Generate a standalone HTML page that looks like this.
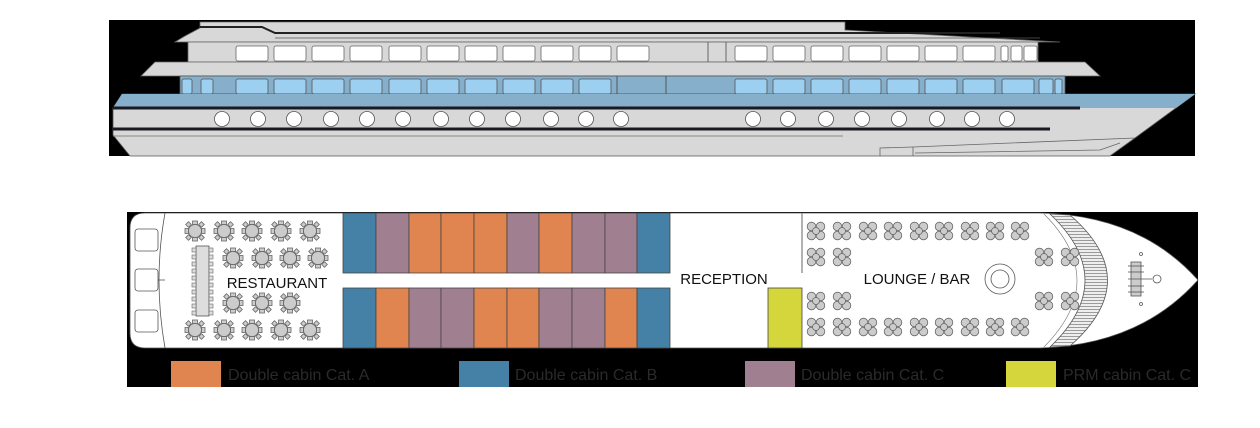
<!DOCTYPE html>
<html><head><meta charset="utf-8"><style>
html,body{margin:0;padding:0;background:#fff;}
svg{display:block;font-family:"Liberation Sans",sans-serif;}
</style></head><body>
<svg width="1260" height="428" viewBox="0 0 1260 428" xmlns="http://www.w3.org/2000/svg">
<defs>
<pattern id="hatch" width="4" height="3" patternUnits="userSpaceOnUse"><rect width="4" height="3" fill="#eee"/><line x1="0" y1="0.5" x2="4" y2="0.5" stroke="#777" stroke-width="0.7"/></pattern>
<g id="lt" stroke="#666" stroke-width="0.8" fill="#ccc">
<circle cx="-4.5" cy="-4.5" r="4.3"/><circle cx="4.5" cy="-4.5" r="4.3"/><circle cx="-4.5" cy="4.5" r="4.3"/><circle cx="4.5" cy="4.5" r="4.3"/><circle r="3.5"/>
</g>
<g id="rt" stroke="#666" stroke-width="0.8" fill="#ccc">
<rect x="-2.5" y="-10" width="5" height="3.5"/><rect x="-2.5" y="6.5" width="5" height="3.5"/>
<rect x="-10" y="-2.5" width="3.5" height="5"/><rect x="6.5" y="-2.5" width="3.5" height="5"/>
<rect x="-8.5" y="-8.5" width="4" height="4" transform="rotate(45 -6.5 -6.5)"/><rect x="4.5" y="-8.5" width="4" height="4" transform="rotate(45 6.5 -6.5)"/>
<rect x="-8.5" y="4.5" width="4" height="4" transform="rotate(45 -6.5 6.5)"/><rect x="4.5" y="4.5" width="4" height="4" transform="rotate(45 6.5 6.5)"/>
<circle r="6.5"/>
</g>
</defs>

<rect x="109" y="20" width="1086" height="136" fill="#000"/>
<polygon points="200,22 845,22 845,30 1060,42 175,42 185,36 200,28" fill="#d8d8d8" stroke="#666" stroke-width="0.8"/>
<polyline points="200,27 262,27 275,33 1000,33" fill="none" stroke="#222" stroke-width="2"/>
<line x1="275" y1="38" x2="1040" y2="38" stroke="#555" stroke-width="0.8"/>
<rect x="188" y="42" width="850" height="20" fill="#d8d8d8" stroke="#666" stroke-width="0.8"/>
<g fill="#fff" stroke="#666" stroke-width="0.8">
<rect x="236" y="46" width="32" height="15" rx="2"/><rect x="274" y="46" width="32" height="15" rx="2"/><rect x="312" y="46" width="32" height="15" rx="2"/><rect x="350" y="46" width="32" height="15" rx="2"/><rect x="389" y="46" width="32" height="15" rx="2"/><rect x="427" y="46" width="32" height="15" rx="2"/><rect x="465" y="46" width="32" height="15" rx="2"/><rect x="503" y="46" width="32" height="15" rx="2"/><rect x="541" y="46" width="32" height="15" rx="2"/><rect x="579" y="46" width="32" height="15" rx="2"/><rect x="617" y="46" width="32" height="15" rx="2"/>
<rect x="735" y="46" width="32" height="15" rx="2"/><rect x="773" y="46" width="32" height="15" rx="2"/><rect x="811" y="46" width="32" height="15" rx="2"/><rect x="849" y="46" width="32" height="15" rx="2"/><rect x="887" y="46" width="32" height="15" rx="2"/><rect x="925" y="46" width="32" height="15" rx="2"/><rect x="963" y="46" width="32" height="15" rx="2"/>
<rect x="1001" y="46" width="7" height="15" rx="2"/><rect x="1011" y="46" width="11" height="15" rx="2"/><rect x="1024" y="46" width="13" height="15" rx="2"/>
</g>
<line x1="708" y1="42" x2="708" y2="62" stroke="#666"/><line x1="726" y1="42" x2="726" y2="62" stroke="#666"/>
<polygon points="141,76 155,62 1085,62 1100,76" fill="#d8d8d8" stroke="#666" stroke-width="0.8"/>
<rect x="180" y="76" width="885" height="18" fill="#86afcb" stroke="#555" stroke-width="0.8"/>
<g fill="#9dd0f0" stroke="#555" stroke-width="0.8">
<rect x="182" y="79" width="10" height="15" rx="2"/><rect x="201" y="79" width="12" height="15" rx="2"/>
<rect x="236" y="79" width="32" height="15" rx="2"/><rect x="274" y="79" width="32" height="15" rx="2"/><rect x="312" y="79" width="32" height="15" rx="2"/><rect x="350" y="79" width="32" height="15" rx="2"/><rect x="389" y="79" width="32" height="15" rx="2"/><rect x="427" y="79" width="32" height="15" rx="2"/><rect x="465" y="79" width="32" height="15" rx="2"/><rect x="503" y="79" width="32" height="15" rx="2"/><rect x="541" y="79" width="32" height="15" rx="2"/><rect x="579" y="79" width="32" height="15" rx="2"/>
<rect x="735" y="79" width="32" height="15" rx="2"/><rect x="773" y="79" width="32" height="15" rx="2"/><rect x="811" y="79" width="32" height="15" rx="2"/><rect x="849" y="79" width="32" height="15" rx="2"/><rect x="887" y="79" width="32" height="15" rx="2"/><rect x="925" y="79" width="32" height="15" rx="2"/><rect x="963" y="79" width="32" height="15" rx="2"/><rect x="1002" y="79" width="32" height="15" rx="2"/><rect x="1039" y="79" width="14" height="15" rx="2"/><rect x="1055" y="79" width="7" height="15" rx="2"/>
</g>
<line x1="617" y1="76" x2="617" y2="94" stroke="#555"/><line x1="666" y1="76" x2="666" y2="94" stroke="#555"/>
<polygon points="113,108 122,94 1195,94 1135,138 1110,156 130,156 113,135" fill="#d8d8d8" stroke="#555" stroke-width="0.8"/>
<polygon points="113,108 122,94 1195,94 1176,108" fill="#86afcb"/>
<line x1="113" y1="108" x2="1080" y2="108" stroke="#1a1a22" stroke-width="3"/>
<line x1="113" y1="129" x2="1050" y2="129" stroke="#1a1a22" stroke-width="3"/>
<line x1="113" y1="136" x2="843" y2="136" stroke="#888" stroke-width="1"/>
<polyline points="880,156 880,148 913,147 1135,138" fill="none" stroke="#666" stroke-width="0.8"/>
<polyline points="913,156 913,147" fill="none" stroke="#666" stroke-width="0.8"/>
<polyline points="915,153 1100,150 1120,143" fill="none" stroke="#666" stroke-width="0.8"/>
<g fill="#fff" stroke="#555" stroke-width="0.8">
<circle cx="222" cy="119" r="7.5"/><circle cx="258" cy="119" r="7.5"/><circle cx="294" cy="119" r="7.5"/><circle cx="331" cy="119" r="7.5"/><circle cx="367" cy="119" r="7.5"/><circle cx="403" cy="119" r="7.5"/><circle cx="441" cy="119" r="7.5"/><circle cx="477" cy="119" r="7.5"/><circle cx="513" cy="119" r="7.5"/><circle cx="551" cy="119" r="7.5"/><circle cx="586" cy="119" r="7.5"/><circle cx="621" cy="119" r="7.5"/>
<circle cx="753" cy="119" r="7.5"/><circle cx="788" cy="119" r="7.5"/><circle cx="826" cy="119" r="7.5"/><circle cx="862" cy="119" r="7.5"/><circle cx="899" cy="119" r="7.5"/><circle cx="937" cy="119" r="7.5"/><circle cx="972" cy="119" r="7.5"/><circle cx="1007" cy="119" r="7.5"/>
</g>

<rect x="127" y="212" width="1071" height="175" fill="#000"/>
<path d="M145,213 L1040,213 Q1140,215 1198,280 Q1140,345 1040,348 L145,348 Q130,348 130,333 L130,228 Q130,213 145,213 Z" fill="#fff" stroke="#555" stroke-width="0.8"/>
<path d="M165,213 Q153,280 165,348" fill="none" stroke="#555" stroke-width="0.8"/>
<g fill="#fff" stroke="#555" stroke-width="0.8">
<rect x="135" y="229" width="23" height="22" rx="3"/><rect x="135" y="269" width="23" height="22" rx="3"/><rect x="135" y="310" width="23" height="22" rx="3"/>
</g>
<line x1="158" y1="280" x2="165" y2="280" stroke="#555" stroke-width="0.8"/>
<path d="M1050,214 Q1120,280 1050,347 L1070,346 Q1145,280 1070,215 Z" fill="url(#hatch)" stroke="#555" stroke-width="0.8"/>
<path d="M1044,214 Q1110,280 1044,347" fill="none" stroke="#777" stroke-width="0.6"/>
<g stroke="#555" stroke-width="0.8" fill="#ccc">
<rect x="1131" y="262" width="10" height="34"/>
<line x1="1128" y1="266" x2="1144" y2="266"/><line x1="1128" y1="272" x2="1144" y2="272"/><line x1="1128" y1="286" x2="1144" y2="286"/><line x1="1128" y1="292" x2="1144" y2="292"/>
<line x1="1128" y1="279" x2="1152" y2="279"/>
<circle cx="1157" cy="279" r="4" fill="#fff"/>
<circle cx="1141" cy="254" r="1.5" fill="#fff"/><circle cx="1141" cy="304" r="1.5" fill="#fff"/>
</g>
<g stroke="#444" stroke-width="0.8">
<rect x="343" y="213" width="33" height="60" fill="#4580a6"/><rect x="376" y="213" width="33" height="60" fill="#a08090"/><rect x="409" y="213" width="32" height="60" fill="#e0854f"/><rect x="441" y="213" width="33" height="60" fill="#e0854f"/><rect x="474" y="213" width="33" height="60" fill="#e0854f"/><rect x="507" y="213" width="32" height="60" fill="#a08090"/><rect x="539" y="213" width="33" height="60" fill="#e0854f"/><rect x="572" y="213" width="33" height="60" fill="#a08090"/><rect x="605" y="213" width="32" height="60" fill="#a08090"/><rect x="637" y="213" width="33" height="60" fill="#4580a6"/>
<rect x="343" y="288" width="33" height="60" fill="#4580a6"/><rect x="376" y="288" width="33" height="60" fill="#e0854f"/><rect x="409" y="288" width="32" height="60" fill="#a08090"/><rect x="441" y="288" width="33" height="60" fill="#a08090"/><rect x="474" y="288" width="33" height="60" fill="#e0854f"/><rect x="507" y="288" width="32" height="60" fill="#e0854f"/><rect x="539" y="288" width="33" height="60" fill="#a08090"/><rect x="572" y="288" width="33" height="60" fill="#a08090"/><rect x="605" y="288" width="32" height="60" fill="#e0854f"/><rect x="637" y="288" width="33" height="60" fill="#4580a6"/>
<rect x="768" y="288" width="34" height="60" fill="#d4d63c"/>
</g>
<line x1="802" y1="213" x2="802" y2="273" stroke="#999" stroke-width="1.5"/>
<rect x="196" y="246" width="13" height="70" fill="#ddd" stroke="#555" stroke-width="0.8"/>
<g fill="#ddd" stroke="#666" stroke-width="0.6">
<rect x="192" y="248" width="4" height="4"/><rect x="192" y="255" width="4" height="4"/><rect x="192" y="262" width="4" height="4"/><rect x="192" y="269" width="4" height="4"/><rect x="192" y="276" width="4" height="4"/><rect x="192" y="283" width="4" height="4"/><rect x="192" y="290" width="4" height="4"/><rect x="192" y="297" width="4" height="4"/><rect x="192" y="304" width="4" height="4"/><rect x="192" y="311" width="4" height="4"/>
<rect x="209" y="248" width="4" height="4"/><rect x="209" y="255" width="4" height="4"/><rect x="209" y="262" width="4" height="4"/><rect x="209" y="269" width="4" height="4"/><rect x="209" y="276" width="4" height="4"/><rect x="209" y="283" width="4" height="4"/><rect x="209" y="290" width="4" height="4"/><rect x="209" y="297" width="4" height="4"/><rect x="209" y="304" width="4" height="4"/><rect x="209" y="311" width="4" height="4"/>
</g>
<use href="#rt" x="195" y="231"/><use href="#rt" x="224" y="231"/><use href="#rt" x="252" y="231"/><use href="#rt" x="281" y="231"/><use href="#rt" x="310" y="231"/>
<use href="#rt" x="233" y="258"/><use href="#rt" x="262" y="258"/><use href="#rt" x="290" y="258"/><use href="#rt" x="318" y="258"/>
<use href="#rt" x="233" y="303"/><use href="#rt" x="262" y="303"/><use href="#rt" x="290" y="303"/>
<use href="#rt" x="195" y="330"/><use href="#rt" x="224" y="330"/><use href="#rt" x="252" y="330"/><use href="#rt" x="281" y="330"/><use href="#rt" x="310" y="330"/>
<use href="#lt" x="816" y="231"/><use href="#lt" x="842" y="231"/><use href="#lt" x="868" y="231"/><use href="#lt" x="893" y="231"/><use href="#lt" x="919" y="231"/><use href="#lt" x="944" y="231"/><use href="#lt" x="970" y="231"/><use href="#lt" x="995" y="231"/><use href="#lt" x="1020" y="231"/>
<use href="#lt" x="816" y="257"/><use href="#lt" x="842" y="257"/><use href="#lt" x="1044" y="257"/><use href="#lt" x="1070" y="257"/>
<use href="#lt" x="816" y="301"/><use href="#lt" x="842" y="301"/><use href="#lt" x="1044" y="301"/><use href="#lt" x="1070" y="301"/>
<use href="#lt" x="816" y="327"/><use href="#lt" x="842" y="327"/><use href="#lt" x="868" y="327"/><use href="#lt" x="893" y="327"/><use href="#lt" x="919" y="327"/><use href="#lt" x="944" y="327"/><use href="#lt" x="970" y="327"/><use href="#lt" x="995" y="327"/><use href="#lt" x="1020" y="327"/>
<circle cx="1000" cy="279" r="15" fill="#fff" stroke="#555" stroke-width="0.8"/><circle cx="1000" cy="279" r="9" fill="#fff" stroke="#555" stroke-width="0.8"/>
<g fill="#111" font-size="15">
<text x="277" y="288" text-anchor="middle">RESTAURANT</text>
<text x="724" y="284" text-anchor="middle">RECEPTION</text>
<text x="917" y="284" text-anchor="middle">LOUNGE / BAR</text>
</g>
<rect x="171" y="361" width="50" height="26" fill="#e0854f"/>
<rect x="459" y="361" width="50" height="26" fill="#4580a6"/>
<rect x="745" y="361" width="50" height="26" fill="#a08090"/>
<rect x="1006" y="361" width="50" height="26" fill="#d4d63c"/>
<g fill="#2a2a2a" font-size="16">
<text x="228" y="380">Double cabin Cat. A</text>
<text x="515" y="380">Double cabin Cat. B</text>
<text x="801" y="380">Double cabin Cat. C</text>
<text x="1063" y="380">PRM cabin Cat. C</text>
</g>
</svg>
</body></html>
